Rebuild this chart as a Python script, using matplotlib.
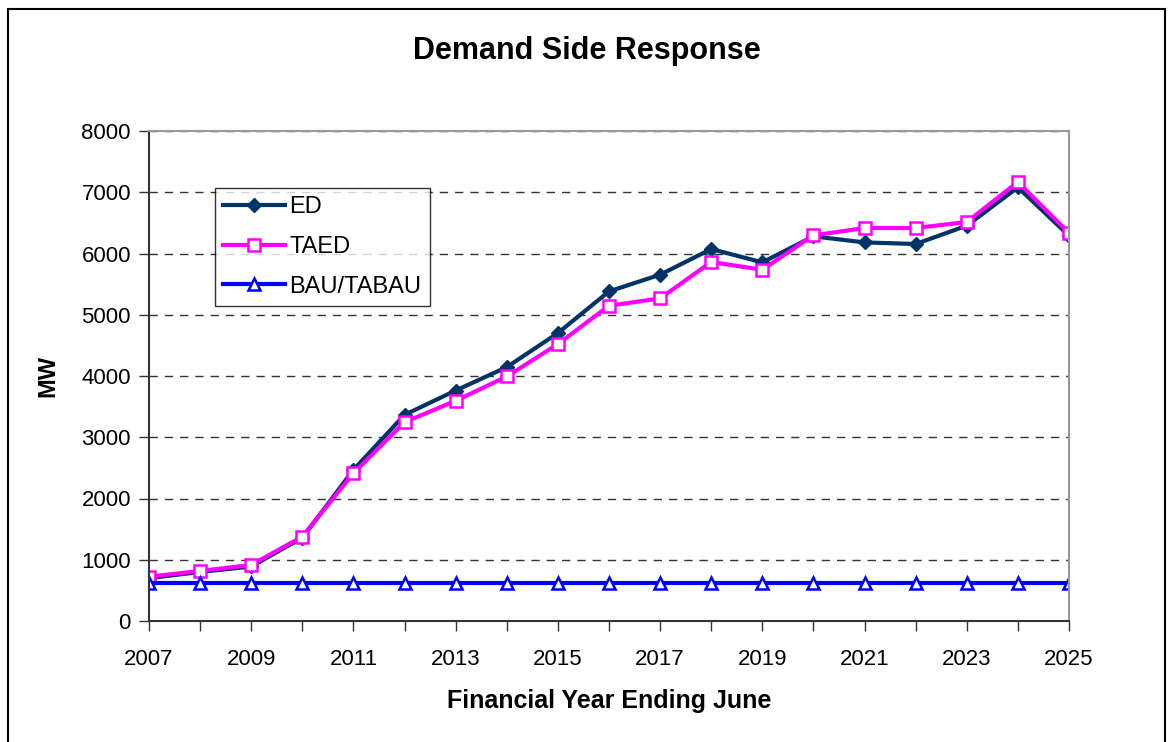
import numpy as np
import matplotlib.pyplot as plt
from matplotlib.patches import Rectangle

plt.rcParams['font.family'] = ['Liberation Sans', 'DejaVu Sans']

years = list(range(2007, 2026))
ed = [700, 800, 890, 1360, 2467, 3366, 3763, 4145, 4701, 5381, 5654, 6073, 5855,
      6280, 6181, 6155, 6454, 7080, 6290]
taed = [724, 817, 915, 1378, 2413, 3246, 3595, 3992, 4521, 5147, 5267, 5861, 5735,
        6296, 6416, 6416, 6514, 7168, 6335]
bau = [620] * len(years)

W, H = 1170, 742
fig = plt.figure(figsize=(W / 100, H / 100), dpi=100)
# outer chart border (bottom edge falls off the image)
fig.patches.append(Rectangle((8 / W, -0.01), 1157 / W, 1 - 9 / H + 0.01, transform=fig.transFigure,
                             fill=False, edgecolor='black', linewidth=1.5))
ax = fig.add_axes([149 / W, 1 - 621 / H, 920 / W, 490 / H])

ax.plot(years, ed, color='#003366', linewidth=3, marker='D', markersize=7,
        markerfacecolor='#003366', markeredgecolor='#003366', label='ED')
ax.plot(years, taed, color='#ff00ff', linewidth=3, marker='s', markersize=8.5,
        markerfacecolor='white', markeredgecolor='#ff00ff', markeredgewidth=1.8, label='TAED')
ax.plot(years, bau, color='#0000ff', linewidth=3, marker='^', markersize=9,
        markerfacecolor='white', markeredgecolor='#0000ff', markeredgewidth=1.8, label='BAU/TABAU')

ax.set_xlim(2007, 2025)
ax.set_ylim(0, 8000)
ax.set_xticks(years, minor=True)
ax.set_xticks(range(2007, 2026, 2))
ax.set_yticks(range(0, 8001, 1000))
ax.tick_params(axis='both', labelsize=16, direction='out', length=7, width=1, color='#333333')
ax.tick_params(axis='x', which='minor', length=7, width=1, color='#333333')
ax.tick_params(axis='x', pad=13)
ax.tick_params(axis='y', pad=6)
ax.yaxis.grid(True, linestyle=(0, (6, 5)), color='#333333', linewidth=1)
ax.set_axisbelow(True)
for s in ['top', 'right']:
    ax.spines[s].set_color('#999999')
    ax.spines[s].set_linewidth(1.5)
for s in ['left', 'bottom']:
    ax.spines[s].set_color('#333333')
    ax.spines[s].set_linewidth(1.5)

ax.set_xlabel('Financial Year Ending June', fontsize=18, fontweight='bold', labelpad=14)
ax.set_ylabel('MW', fontsize=17, fontweight='bold', labelpad=16)
fig.text(587 / W, 1 - 51 / H, 'Demand Side Response', ha='center', va='center',
         fontsize=22, fontweight='bold')

leg = ax.legend(loc='upper left', bbox_to_anchor=(66 / 920, 1 - 57 / 490), fontsize=17,
                frameon=True, fancybox=False, edgecolor='black', handlelength=2.6,
                borderpad=0.35, labelspacing=0.75, handletextpad=0.2, borderaxespad=0)
leg.get_frame().set_linewidth(1)

fig.savefig('out.png', dpi=100)
